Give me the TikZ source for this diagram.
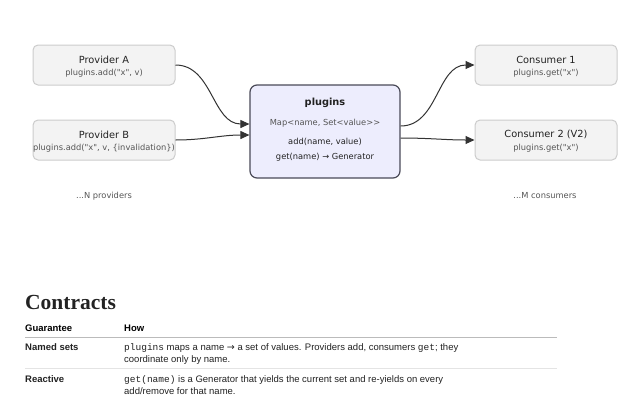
\documentclass[tikz,border=0pt]{standalone}
\usepackage{fontspec}
\setmainfont{Liberation Sans}
\setmonofont{Liberation Mono}
\newfontfamily\headfont{Liberation Serif}
\newfontfamily\symfont{DejaVu Sans}
\newfontfamily\dgfont{DejaVu Sans}
\usetikzlibrary{arrows.meta,calc}
\definecolor{boxfill}{HTML}{F3F3F3}
\definecolor{boxline}{HTML}{CCCCCC}
\definecolor{hubfill}{HTML}{EDEDFD}
\definecolor{hubline}{HTML}{4A4A58}
\definecolor{txtdark}{HTML}{222222}
\definecolor{txtgray}{HTML}{555555}
\definecolor{arrowc}{HTML}{333333}
\definecolor{rule1}{HTML}{BBBBBB}
\definecolor{rule2}{HTML}{E4E4E4}
\tikzset{
  sidebox/.style={draw=boxline, fill=boxfill, line width=1pt, rounded corners=5pt, minimum width=142pt, minimum height=40pt, inner sep=0pt},
  hubbox/.style={draw=hubline, fill=hubfill, line width=1.2pt, rounded corners=7pt, minimum width=150pt, minimum height=93pt, inner sep=0pt},
  ttl/.style={font=\dgfont\fontsize{9.8}{12}\selectfont, text=txtdark, inner sep=0pt},
  sub/.style={font=\dgfont\fontsize{8.3}{10}\selectfont, text=txtgray, inner sep=0pt},
  note/.style={font=\dgfont\fontsize{8.3}{10}\selectfont, text=txtgray, inner sep=0pt},
  flow/.style={draw=arrowc, line width=1pt, -{Triangle[length=9pt,width=8pt]}},
  th/.style={font=\fontsize{9.5}{11}\selectfont\bfseries, text=black, anchor=base west, inner sep=0pt},
  td/.style={font=\fontsize{9.5}{11}\selectfont, text=txtdark, anchor=base west, inner sep=0pt},
  tdb/.style={font=\fontsize{9.5}{11}\selectfont\bfseries, text=txtdark, anchor=base west, inner sep=0pt}
}
\begin{document}
\begin{tikzpicture}[x=1pt,y=-1pt]
\useasboundingbox (0,0) rectangle (640,400);
% boxes
\node[sidebox] (pa) at (104,65) {};
\node[sidebox] (pb) at (104,140) {};
\node[hubbox] (hub) at (325,131.5) {};
\node[sidebox] (c1) at (546,65) {};
\node[sidebox] (c2) at (546,140) {};
% texts
\node[ttl] (paT) at (104,59.5) {Provider A};
\node[sub] (paS) at (104,73.5) {plugins.add("x", v)};
\node[ttl] (pbT) at (104,134.5) {Provider B};
\node[sub] (pbS) at (104,148.5) {plugins.add("x", v, \{invalidation\})};
\node[ttl, font=\dgfont\fontsize{9.8}{12}\selectfont\bfseries] (hT) at (325,103) {plugins};
\node[sub] (hM) at (325,123.5) {Map<name, Set<value>{}>};
\node[sub, text=txtdark] (hA) at (325,142) {add(name, value)};
\node[sub, text=txtdark] (hG) at (325,157) {get(name) → Generator};
\node[ttl] (c1T) at (546,59.5) {Consumer 1};
\node[sub] (c1S) at (546,73.5) {plugins.get("x")};
\node[ttl] (c2T) at (546,134.5) {Consumer 2 (V2)};
\node[sub] (c2S) at (546,148.5) {plugins.get("x")};
\node[note] (np) at (104,196) {...N providers};
\node[note] (nc) at (545,196) {...M consumers};
% connectors
\draw[flow] (pa.east) to[out=0,in=180] ($(hub.west)+(0,-7.5)$);
\draw[flow] (pb.east) to[out=0,in=180] ($(hub.west)+(0,3.5)$);
\draw[flow] ($(hub.east)+(0,-5.5)$) to[out=0,in=180] (c1.west);
\draw[flow] ($(hub.east)+(0,6.5)$) to[out=0,in=180] (c2.west);
% contracts
\node[anchor=base west, inner sep=0pt, font=\fontsize{21.5}{24}\selectfont\headfont\bfseries, text=txtdark] (hd) at (25,309) {Contracts};
\node[th] (g) at (25,331) {Guarantee};
\node[th] (h) at (124,331) {How};
\draw[rule1, line width=0.8pt] (25,337.5) -- (557,337.5);
\node[tdb] (r1) at (25,350.5) {Named sets};
\node[td] (r1a) at (124,350.5) {\texttt{plugins} maps a name {\symfont→} a set of values. Providers add, consumers \texttt{get}; they};
\node[td] (r1b) at (124,362.5) {coordinate only by name.};
\draw[rule2, line width=0.8pt] (25,368.5) -- (557,368.5);
\node[tdb] (r2) at (25,382) {Reactive};
\node[td] (r2a) at (124,382) {\texttt{get(name)} is a Generator that yields the current set and re-yields on every};
\node[td] (r2b) at (124,394) {add/remove for that name.};
\end{tikzpicture}
\end{document}
